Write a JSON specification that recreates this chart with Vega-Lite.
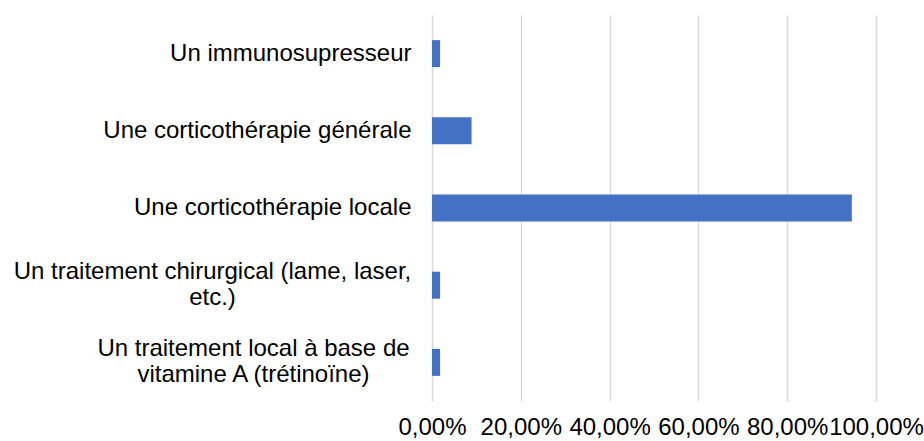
{
  "$schema": "https://vega.github.io/schema/vega-lite/v6.json",
  "autosize": {"type": "none"},
  "padding": {"left": 432, "top": 15, "right": 48, "bottom": 40},
  "width": 444,
  "height": 386,
  "background": "white",
  "config": {"view": {"stroke": null}, "font": "Liberation Sans"},
  "data": {"values": [
    {"traitement": "Un immunosupresseur", "pourcentage": 0.0182},
    {"traitement": "Une corticothérapie générale", "pourcentage": 0.0891},
    {"traitement": "Une corticothérapie locale", "pourcentage": 0.9455},
    {"traitement": "Un traitement chirurgical (lame, laser, etc.)", "pourcentage": 0.0182},
    {"traitement": "Un traitement local à base de vitamine A (trétinoïne)", "pourcentage": 0.0182}
  ]},
  "mark": {"type": "bar", "color": "#4472C4"},
  "encoding": {
    "y": {
      "field": "traitement", "type": "nominal", "sort": null, "title": null,
      "scale": {"paddingInner": 0.65, "paddingOuter": 0.325},
      "axis": {
        "domain": false, "ticks": false, "grid": false,
        "labelFont": "Liberation Sans", "labelFontSize": 24, "labelColor": "#000000",
        "labelLimit": 0, "labelLineHeight": 26,
        "labelAlign": {"condition": {"test": "indexof(datum.value, 'Un traitement') == 0", "value": "center"}, "value": "right"},
        "labelPadding": {"condition": [
          {"test": "datum.value == 'Un traitement chirurgical (lame, laser, etc.)'", "value": 220},
          {"test": "indexof(datum.value, 'Un traitement local') == 0", "value": 179}
        ], "value": 21},
        "labelOffset": {"condition": {"test": "indexof(datum.value, 'Un traitement') == 0", "value": -13}, "value": 0},
        "labelExpr": "datum.value == 'Un traitement chirurgical (lame, laser, etc.)' ? ['Un traitement chirurgical (lame, laser,', 'etc.)'] : datum.value == 'Un traitement local à base de vitamine A (trétinoïne)' ? ['Un traitement local à base de', 'vitamine A (trétinoïne)'] : datum.value"
      }
    },
    "x": {
      "field": "pourcentage", "type": "quantitative", "title": null,
      "scale": {"domain": [0, 1], "nice": false},
      "axis": {
        "values": [0, 0.2, 0.4, 0.6, 0.8, 1],
        "domain": false, "ticks": false,
        "grid": true, "gridColor": "#d9d9d9", "gridWidth": 1.5,
        "labelFont": "Liberation Sans", "labelFontSize": 24, "labelColor": "#000000",
        "labelPadding": 14, "labelOverlap": false, "labelFlush": false, "labelBound": false,
        "labelExpr": "replace(format(datum.value, '.2%'), '.', ',')"
      }
    }
  }
}
